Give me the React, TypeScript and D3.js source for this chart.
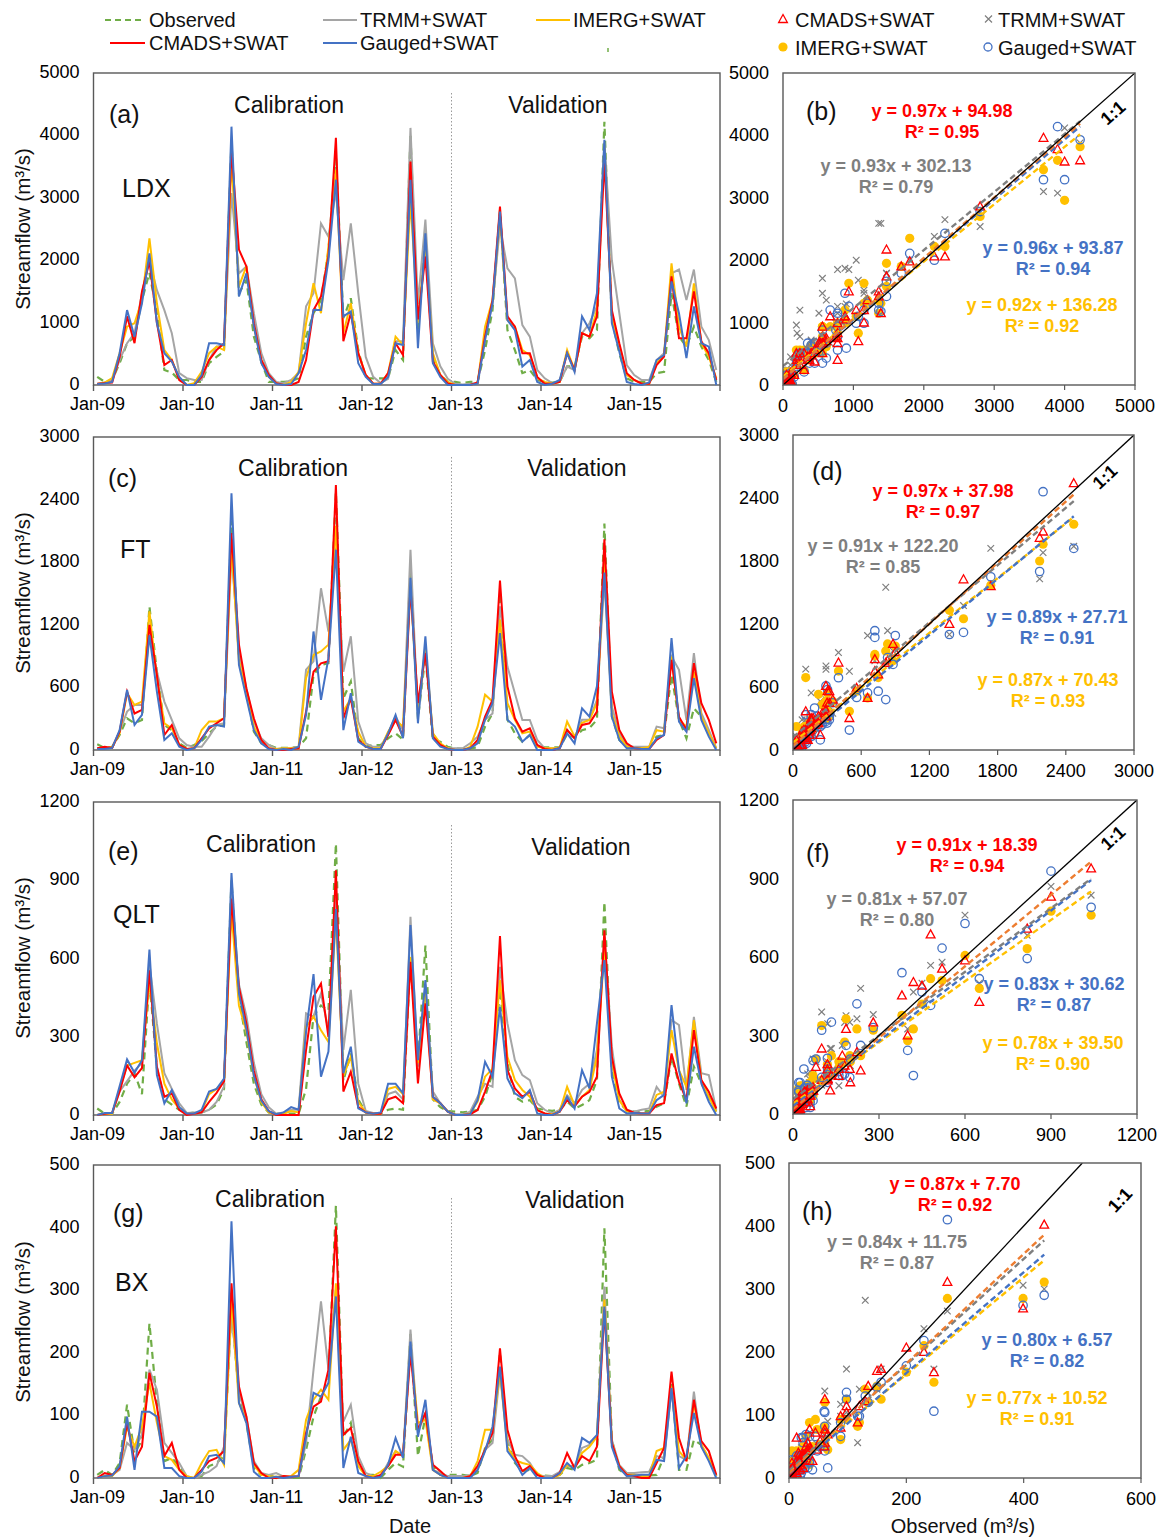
import React from "react";
import * as d3 from "d3";

const W = 1163;
const H = 1540;
const FONT = "'Liberation Sans', Arial, Helvetica, sans-serif";

const xTickLabels = ["Jan-09", "Jan-10", "Jan-11", "Jan-12", "Jan-13", "Jan-14", "Jan-15"];
const legendLineNames = ["Observed", "CMADS+SWAT", "TRMM+SWAT", "Gauged+SWAT", "IMERG+SWAT"];
const stationNames = ["LDX", "FT", "QLT", "BX"];
const panelTagsTS = ["(a)", "(c)", "(e)", "(g)"];
const panelTagsSC = ["(b)", "(d)", "(f)", "(h)"];
const yMaxes = [5000, 3000, 1200, 500];
const yStepsTS = [1000, 600, 300, 100];
const xStepsSC = [1000, 600, 300, 200];
const yScMaxes = [5000, 3000, 1200, 500];
const xScMaxes = [5000, 3000, 1200, 600];

// ---------------- Monthly streamflow (Jan-09 .. Dec-15), m3/s ----------------
const LDX_obs = [
  130, 50, 80, 350, 670, 775, 1360, 1800, 1150, 240, 200, 80,
  80, 50, 50, 350, 450, 535, 3900, 1470, 1680, 775, 375, 50,
  50, 50, 60, 107, 775, 1150, 1360, 2150, 3700, 1070, 1390, 560,
  107, 107, 107, 107, 560, 400, 4000, 900, 2300, 450, 160, 50,
  50, 30, 50, 50, 560, 1200, 2800, 880, 560, 190, 240, 80,
  50, 40, 50, 300, 300, 775, 750, 880, 4220, 1040, 510, 107,
  50, 50, 50, 190, 210, 1470, 775, 615, 935, 615, 400, 50];
const LDX_cmads = [
  20, 30, 40, 450, 1100, 670, 1500, 1980, 1000, 320, 400, 80,
  0, 0, 130, 400, 560, 670, 3780, 2170, 1900, 990, 400, 160,
  27, 0, 0, 50, 400, 1200, 1420, 2060, 3960, 700, 1150, 510,
  160, 20, 20, 190, 670, 480, 3580, 1050, 2060, 375, 160, 25,
  0, 0, 0, 40, 775, 1360, 2860, 1100, 935, 510, 510, 130,
  20, 20, 50, 510, 240, 830, 775, 1100, 3600, 1200, 670, 190,
  80, 20, 20, 320, 455, 1740, 750, 750, 1500, 700, 510, 80];
const LDX_gauged = [
  15, 25, 50, 510, 1200, 775, 1310, 2110, 990, 510, 375, 130,
  0, 0, 160, 670, 670, 640, 4140, 1420, 1790, 935, 350, 130,
  15, 0, 15, 190, 560, 1200, 1200, 2000, 3290, 1100, 1180, 350,
  130, 15, 15, 130, 670, 640, 3290, 590, 2430, 350, 130, 0,
  0, 0, 0, 20, 720, 1310, 2780, 1040, 880, 295, 400, 50,
  0, 20, 80, 510, 210, 1100, 880, 1470, 3930, 990, 535, 50,
  15, 0, 40, 400, 480, 1660, 1150, 430, 1260, 670, 615, 0];
const LDX_trmm = [
  15, 40, 80, 400, 670, 830, 1470, 2000, 1520, 1200, 830, 190,
  110, 80, 80, 400, 615, 640, 3075, 1790, 1900, 1150, 510, 190,
  50, 30, 80, 190, 1260, 1470, 2590, 2380, 3100, 1680, 2590, 1470,
  450, 130, 30, 100, 700, 700, 4120, 1300, 2650, 670, 300, 100,
  20, 10, 20, 30, 775, 1300, 2540, 1870, 1710, 960, 775, 240,
  107, 30, 50, 295, 240, 830, 990, 1260, 3880, 2000, 1150, 320,
  160, 80, 80, 400, 510, 1790, 1850, 1360, 1850, 935, 720, 240];
const LDX_imerg = [
  15, 40, 110, 510, 935, 990, 1360, 2350, 1310, 560, 400, 107,
  0, 30, 210, 510, 615, 560, 3600, 1580, 1900, 935, 400, 130,
  27, 0, 50, 210, 990, 1630, 1150, 2220, 3450, 830, 1310, 510,
  160, 20, 20, 190, 775, 640, 2960, 1000, 2220, 510, 160, 50,
  0, 0, 0, 30, 935, 1360, 2700, 1040, 935, 560, 480, 107,
  50, 20, 50, 560, 240, 830, 775, 1200, 3820, 1100, 615, 160,
  80, 20, 20, 350, 480, 1950, 935, 615, 1630, 670, 455, 107];

const FT_obs = [
  54, 20, 30, 144, 304, 256, 288, 1376, 750, 240, 190, 64,
  20, 48, 86, 160, 224, 240, 2200, 880, 560, 176, 64, 48,
  20, 20, 20, 30, 112, 720, 816, 832, 2470, 496, 656, 112,
  32, 48, 48, 112, 160, 100, 1740, 300, 900, 96, 80, 30,
  13, 10, 10, 30, 224, 350, 1500, 290, 160, 80, 144, 30,
  25, 25, 25, 150, 120, 190, 210, 290, 2170, 320, 96, 25,
  15, 25, 25, 130, 144, 720, 290, 112, 400, 320, 160, 15];
const FT_cmads = [
  16, 30, 20, 176, 560, 350, 385, 1200, 720, 144, 240, 48,
  10, 16, 112, 208, 256, 304, 2080, 1010, 590, 304, 96, 16,
  0, 0, 10, 16, 368, 750, 830, 850, 2540, 304, 496, 96,
  32, 10, 10, 144, 288, 128, 1560, 450, 930, 128, 48, 10,
  0, 0, 16, 96, 320, 480, 1625, 610, 304, 176, 208, 48,
  10, 0, 16, 192, 112, 240, 256, 368, 2020, 560, 192, 64,
  16, 10, 10, 96, 144, 864, 320, 192, 832, 448, 288, 64];
const FT_gauged = [
  10, 10, 20, 190, 575, 240, 336, 1100, 560, 96, 160, 32,
  0, 16, 96, 224, 240, 224, 2460, 815, 500, 190, 64, 10,
  0, 10, 0, 30, 336, 1136, 480, 880, 1920, 190, 544, 80,
  32, 10, 10, 160, 336, 112, 1650, 256, 1090, 112, 32, 10,
  0, 0, 16, 64, 290, 450, 1120, 290, 224, 80, 144, 0,
  0, 0, 16, 160, 64, 400, 320, 610, 1700, 320, 96, 16,
  16, 10, 10, 112, 144, 1072, 272, 176, 688, 288, 128, 0];
const FT_trmm = [
  16, 20, 20, 176, 368, 432, 432, 1100, 750, 464, 288, 112,
  48, 30, 30, 128, 240, 256, 1880, 944, 590, 272, 112, 48,
  10, 16, 20, 30, 770, 850, 1550, 1136, 1940, 750, 1090, 272,
  64, 30, 30, 160, 320, 190, 1920, 320, 960, 160, 48, 16,
  16, 16, 64, 128, 290, 350, 1376, 800, 544, 288, 288, 96,
  16, 16, 16, 192, 112, 290, 290, 480, 1630, 416, 160, 48,
  30, 30, 30, 224, 208, 896, 768, 288, 928, 352, 192, 16];
const FT_imerg = [
  10, 16, 30, 160, 544, 432, 464, 1330, 690, 256, 208, 48,
  10, 16, 192, 272, 272, 304, 1960, 850, 560, 224, 80, 16,
  10, 16, 16, 16, 690, 910, 944, 1010, 2150, 368, 496, 176,
  32, 16, 16, 176, 288, 224, 1570, 380, 990, 160, 64, 16,
  0, 0, 30, 224, 530, 464, 1250, 450, 290, 160, 176, 32,
  16, 16, 16, 272, 130, 260, 288, 450, 1800, 350, 130, 32,
  16, 16, 30, 190, 176, 896, 290, 224, 752, 320, 160, 16];

const QLT_obs = [
  25, 5, 5, 50, 120, 160, 80, 520, 180, 60, 40, 20,
  5, 10, 10, 20, 40, 100, 900, 450, 280, 120, 40, 10,
  5, 5, 5, 5, 100, 380, 420, 400, 1040, 130, 236, 60,
  10, 5, 5, 20, 25, 20, 600, 200, 650, 60, 30, 15,
  13, 10, 13, 20, 70, 160, 480, 198, 70, 51, 57, 25,
  20, 16, 20, 51, 25, 38, 57, 134, 817, 172, 45, 20,
  13, 13, 16, 32, 45, 223, 121, 32, 185, 121, 70, 13];
const QLT_cmads = [
  0, 5, 8, 90, 190, 145, 180, 555, 185, 70, 83, 20,
  0, 5, 10, 50, 85, 130, 830, 490, 350, 170, 60, 15,
  0, 0, 0, 0, 250, 453, 504, 300, 938, 90, 166, 30,
  10, 5, 5, 60, 70, 45, 587, 121, 428, 70, 45, 13,
  0, 0, 3, 19, 90, 172, 686, 172, 102, 70, 89, 19,
  6, 0, 13, 57, 32, 70, 89, 147, 708, 223, 83, 20,
  8, 6, 6, 38, 45, 236, 128, 57, 325, 134, 89, 25];
const QLT_gauged = [
  0, 8, 8, 110, 213, 162, 210, 634, 153, 45, 96, 30,
  6, 6, 20, 90, 100, 140, 928, 466, 330, 150, 55, 15,
  3, 10, 30, 20, 320, 540, 147, 243, 790, 160, 262, 25,
  10, 5, 10, 120, 120, 83, 728, 210, 517, 70, 45, 13,
  0, 0, 3, 57, 204, 147, 415, 140, 83, 64, 96, 6,
  0, 0, 13, 70, 25, 172, 102, 351, 594, 147, 25, 6,
  8, 6, 6, 57, 77, 421, 172, 45, 262, 121, 51, 0];
const QLT_trmm = [
  0, 5, 5, 90, 130, 170, 200, 580, 350, 160, 100, 45,
  8, 10, 10, 20, 50, 110, 870, 500, 380, 200, 80, 30,
  5, 10, 20, 20, 390, 377, 466, 325, 836, 250, 480, 120,
  15, 8, 8, 80, 90, 60, 760, 185, 500, 90, 45, 15,
  3, 3, 13, 70, 120, 108, 568, 351, 210, 153, 134, 45,
  20, 6, 20, 76, 45, 96, 120, 250, 683, 262, 57, 19,
  13, 20, 25, 108, 70, 364, 345, 96, 376, 160, 153, 20];
const QLT_imerg = [
  0, 5, 5, 100, 190, 200, 210, 510, 275, 120, 60, 25,
  5, 5, 15, 80, 100, 130, 775, 420, 320, 150, 50, 10,
  3, 5, 15, 10, 338, 377, 325, 280, 760, 150, 223, 50,
  10, 5, 5, 100, 108, 80, 606, 200, 480, 60, 45, 13,
  0, 0, 6, 51, 147, 178, 517, 223, 134, 96, 70, 19,
  6, 3, 13, 108, 38, 70, 96, 223, 632, 198, 57, 13,
  8, 6, 6, 77, 89, 325, 172, 108, 364, 134, 70, 13];

const BX_obs = [
  5, 13, 5, 24, 117, 40, 60, 247, 120, 27, 32, 19,
  0, 0, 3, 19, 24, 35, 270, 135, 88, 16, 5, 5,
  0, 3, 0, 0, 45, 98, 130, 157, 435, 66, 88, 21,
  5, 5, 0, 13, 24, 18, 230, 35, 98, 19, 5, 5,
  5, 5, 3, 8, 48, 61, 200, 61, 24, 11, 13, 5,
  4, 3, 5, 16, 13, 21, 24, 29, 399, 61, 13, 5,
  5, 4, 4, 5, 35, 150, 13, 13, 61, 53, 30, 3];
const BX_cmads = [
  0, 8, 5, 16, 88, 27, 50, 168, 114, 35, 56, 13,
  0, 0, 13, 27, 32, 43, 311, 146, 98, 24, 8, 0,
  0, 3, 2, 3, 72, 114, 122, 173, 402, 69, 80, 27,
  3, 0, 5, 19, 37, 37, 200, 77, 104, 21, 11, 0,
  0, 0, 3, 19, 45, 72, 207, 77, 35, 11, 19, 5,
  0, 0, 8, 40, 16, 35, 27, 50, 269, 56, 19, 5,
  3, 0, 0, 24, 48, 170, 64, 27, 125, 59, 43, 5];
const BX_gauged = [
  0, 3, 4, 19, 98, 13, 106, 106, 98, 16, 16, 3,
  0, 0, 10, 35, 37, 24, 410, 120, 88, 10, 0, 0,
  2, 0, 2, 3, 66, 136, 130, 152, 290, 16, 66, 8,
  3, 0, 2, 21, 64, 32, 218, 66, 125, 13, 5, 0,
  0, 0, 0, 13, 43, 82, 178, 43, 27, 5, 16, 0,
  0, 0, 8, 24, 13, 64, 56, 69, 274, 50, 16, 3,
  4, 5, 5, 29, 27, 144, 16, 35, 104, 50, 27, 0];
const BX_trmm = [
  0, 4, 5, 13, 56, 45, 70, 173, 141, 56, 40, 24,
  3, 0, 5, 10, 19, 50, 265, 135, 98, 27, 8, 5,
  8, 2, 2, 3, 56, 173, 282, 173, 300, 90, 117, 35,
  8, 3, 3, 24, 43, 35, 237, 72, 104, 13, 8, 3,
  3, 3, 5, 13, 45, 56, 168, 61, 37, 35, 24, 5,
  3, 3, 10, 19, 19, 48, 53, 66, 306, 61, 21, 8,
  8, 9, 10, 35, 32, 141, 35, 29, 138, 50, 30, 3];
const BX_imerg = [
  0, 3, 3, 16, 82, 50, 82, 152, 88, 35, 29, 13,
  3, 0, 24, 43, 45, 21, 285, 120, 93, 21, 5, 3,
  2, 2, 3, 13, 93, 125, 141, 125, 311, 45, 61, 19,
  3, 3, 10, 19, 43, 35, 210, 88, 93, 13, 5, 0,
  0, 0, 3, 27, 77, 77, 168, 50, 29, 24, 21, 8,
  0, 0, 5, 21, 16, 40, 50, 66, 285, 56, 19, 5,
  5, 3, 3, 43, 48, 146, 43, 29, 120, 53, 32, 3];

// Regression fits: [slope, intercept, R2], order CMADS, TRMM, Gauged, IMERG
const LDX_fits = [[0.97, 94.98, 0.95], [0.93, 302.13, 0.79], [0.96, 93.87, 0.94], [0.92, 136.28, 0.92]];
const FT_fits = [[0.97, 37.98, 0.97], [0.91, 122.2, 0.85], [0.89, 27.71, 0.91], [0.87, 70.43, 0.93]];
const QLT_fits = [[0.91, 18.39, 0.94], [0.81, 57.07, 0.8], [0.83, 30.62, 0.87], [0.78, 39.5, 0.9]];
const BX_fits = [[0.87, 7.7, 0.92], [0.84, 11.75, 0.87], [0.8, 6.57, 0.82], [0.77, 10.52, 0.91]];

const STATIONS = [
  { obs: LDX_obs, cmads: LDX_cmads, trmm: LDX_trmm, imerg: LDX_imerg, gauged: LDX_gauged, fits: LDX_fits },
  { obs: FT_obs, cmads: FT_cmads, trmm: FT_trmm, imerg: FT_imerg, gauged: FT_gauged, fits: FT_fits },
  { obs: QLT_obs, cmads: QLT_cmads, trmm: QLT_trmm, imerg: QLT_imerg, gauged: QLT_gauged, fits: QLT_fits },
  { obs: BX_obs, cmads: BX_cmads, trmm: BX_trmm, imerg: BX_imerg, gauged: BX_gauged, fits: BX_fits },
];

// ---------------- styles / layout ----------------
const C = {
  obs: "#70AD47",
  cmads: "#FF0000",
  trmm: "#A5A5A5",
  imerg: "#FFC000",
  gauged: "#4472C4",
  cmadsFit: "#ED7D31",
  trmmFit: "#7F7F7F",
  trmmText: "#7F7F7F",
  frame: "#595959",
};
const FIT_TEXT_COLORS = [C.cmads, C.trmmText, C.gauged, C.imerg];
const FIT_LINE_COLORS = [C.cmadsFit, C.trmmFit, C.gauged, C.imerg];

const TS_L = 93.5;
const TS_R = 720;
const TS_ROWS = [
  { top: 73, bottom: 385, divTop: 93, calib: [289, 113], valid: [558, 113], tag: [109, 123], st: [122, 197], ylab: 229 },
  { top: 437, bottom: 750, divTop: 457, calib: [293, 476], valid: [577, 476], tag: [108, 487], st: [120, 558], ylab: 593 },
  { top: 802, bottom: 1115, divTop: 825, calib: [261, 852], valid: [581, 855], tag: [108, 860], st: [113, 923], ylab: 958 },
  { top: 1165, bottom: 1478, divTop: 1198, calib: [270, 1207], valid: [575, 1208], tag: [113, 1222], st: [115, 1291], ylab: 1322 },
];
const SC_ROWS = [
  { left: 783, right: 1135, top: 73, bottom: 385, tag: [806, 120], one: [1113, 113], eq: [[942, 110], [896, 165], [1053, 247], [1042, 304]] },
  { left: 793, right: 1134, top: 435, bottom: 750, tag: [812, 480], one: [1105, 477], eq: [[943, 490], [883, 545], [1057, 616], [1048, 679]] },
  { left: 793, right: 1137, top: 800, bottom: 1114, tag: [806, 862], one: [1113, 838], eq: [[967, 844], [897, 898], [1054, 983], [1053, 1042]] },
  { left: 789, right: 1141, top: 1163, bottom: 1478, tag: [802, 1220], one: [1120, 1200], eq: [[955, 1183], [897, 1241], [1047, 1339], [1037, 1397]] },
];

function fmt2(v: number) {
  return v.toFixed(2);
}

function TimeSeries({ r }: { r: number }) {
  const L = TS_ROWS[r];
  const s = STATIONS[r];
  const x = d3.scaleLinear().domain([0, 84]).range([TS_L, TS_R]);
  const y = d3.scaleLinear().domain([0, yMaxes[r]]).range([L.bottom, L.top]);
  const line = d3
    .line<number>()
    .x((_, i) => x(i + 0.5))
    .y((d) => y(d));
  const yTicks = d3.range(0, yMaxes[r] + 1, yStepsTS[r]);
  const xTicks = d3.range(0, 85, 12);
  return (
    <g>
      <rect x={TS_L} y={L.top} width={TS_R - TS_L} height={L.bottom - L.top} fill="none" stroke={C.frame} strokeWidth={1.4} />
      <line x1={x(48)} x2={x(48)} y1={L.divTop} y2={L.bottom} stroke="#9A9A9A" strokeWidth={1} strokeDasharray="1.5,2" />
      {yTicks.map((v) => (
        <text key={v} x={TS_L - 14} y={y(v) + 5} fontSize={18} textAnchor="end" fill="#000">
          {v}
        </text>
      ))}
      {xTicks.map((m, k) => (
        <g key={m}>
          <line x1={x(m)} x2={x(m)} y1={L.bottom} y2={L.bottom + 6} stroke={C.frame} strokeWidth={1.4} />
          {k < xTickLabels.length && (
            <text x={x(m) + 4} y={L.bottom + 25} fontSize={18} textAnchor="middle" fill="#000">
              {xTickLabels[k]}
            </text>
          )}
        </g>
      ))}
      <path d={line(s.obs) || ""} fill="none" stroke={C.obs} strokeWidth={2.2} strokeDasharray="7,5" />
      <path d={line(s.trmm) || ""} fill="none" stroke={C.trmm} strokeWidth={2} />
      <path d={line(s.imerg) || ""} fill="none" stroke={C.imerg} strokeWidth={2} />
      <path d={line(s.cmads) || ""} fill="none" stroke={C.cmads} strokeWidth={2} />
      <path d={line(s.gauged) || ""} fill="none" stroke={C.gauged} strokeWidth={2} />
      <text x={L.calib[0]} y={L.calib[1]} fontSize={23} textAnchor="middle" fill="#111">Calibration</text>
      <text x={L.valid[0]} y={L.valid[1]} fontSize={23} textAnchor="middle" fill="#111">Validation</text>
      <text x={L.tag[0]} y={L.tag[1]} fontSize={25} fill="#111">{panelTagsTS[r]}</text>
      <text x={L.st[0]} y={L.st[1]} fontSize={25} fill="#111">{stationNames[r]}</text>
      <text transform={`translate(30,${L.ylab}) rotate(-90)`} fontSize={20.5} textAnchor="middle" fill="#111">
        Streamflow (m³/s)
      </text>
    </g>
  );
}

function Scatter({ r }: { r: number }) {
  const L = SC_ROWS[r];
  const s = STATIONS[r];
  const x = d3.scaleLinear().domain([0, xScMaxes[r]]).range([L.left, L.right]);
  const y = d3.scaleLinear().domain([0, yScMaxes[r]]).range([L.bottom, L.top]);
  const xTicks = d3.range(0, xScMaxes[r] + 1, xStepsSC[r]);
  const yTicks = d3.range(0, yScMaxes[r] + 1, yStepsTS[r]);
  const maxObs = d3.max(s.obs) || 0;
  const fitOrder = [3, 2, 1, 0];
  const oneMax = Math.min(xScMaxes[r], yScMaxes[r]);
  const ang = (Math.atan2(y(0) - y(oneMax), x(oneMax) - x(0)) * 180) / Math.PI;
  const clipId = `scclip${r}`;
  return (
    <g>
      <defs>
        <clipPath id={clipId}>
          <rect x={L.left} y={L.top} width={L.right - L.left} height={L.bottom - L.top} />
        </clipPath>
      </defs>
      {yTicks.map((v) => (
        <text key={v} x={L.left - 14} y={y(v) + 6} fontSize={18} textAnchor="end" fill="#000">
          {v}
        </text>
      ))}
      {xTicks.map((v) => (
        <g key={v}>
          <line x1={x(v)} x2={x(v)} y1={L.bottom} y2={L.bottom + 5} stroke={C.frame} strokeWidth={1.2} />
          <text x={x(v)} y={L.bottom + 27} fontSize={18} textAnchor="middle" fill="#000">
            {v}
          </text>
        </g>
      ))}
      <g clipPath={`url(#${clipId})`}>
        {s.obs.map((o, i) => {
          const cx = x(o);
          const cy = y(s.trmm[i]);
          return (
            <path key={"t" + i} d={`M${cx - 3.3},${cy - 3.3}L${cx + 3.3},${cy + 3.3}M${cx - 3.3},${cy + 3.3}L${cx + 3.3},${cy - 3.3}`} stroke="#7F7F7F" strokeWidth={1.2} fill="none" />
          );
        })}
        {s.obs.map((o, i) => (
          <circle key={"i" + i} cx={x(o)} cy={y(s.imerg[i])} r={4.6} fill={C.imerg} />
        ))}
        {s.obs.map((o, i) => (
          <circle key={"g" + i} cx={x(o)} cy={y(s.gauged[i])} r={4.2} fill="none" stroke={C.gauged} strokeWidth={1.3} />
        ))}
        {s.obs.map((o, i) => {
          const cx = x(o);
          const cy = y(s.cmads[i]);
          return (
            <path key={"c" + i} d={`M${cx},${cy - 4.6}L${cx + 4.4},${cy + 3.4}L${cx - 4.4},${cy + 3.4}Z`} stroke={C.cmads} strokeWidth={1.3} fill="none" />
          );
        })}
        {fitOrder.map((k) => {
          const [a, b] = s.fits[k];
          return (
            <line key={"f" + k} x1={x(0)} y1={y(b)} x2={x(maxObs)} y2={y(a * maxObs + b)} stroke={FIT_LINE_COLORS[k]} strokeWidth={2.4} strokeDasharray="6,3.5" />
          );
        })}
        <line x1={x(0)} y1={y(0)} x2={x(oneMax)} y2={y(oneMax)} stroke="#000" strokeWidth={1.3} />
      </g>
      <rect x={L.left} y={L.top} width={L.right - L.left} height={L.bottom - L.top} fill="none" stroke={C.frame} strokeWidth={1.4} />
      <text x={L.tag[0]} y={L.tag[1]} fontSize={25} fill="#111">{panelTagsSC[r]}</text>
      <text transform={`translate(${L.one[0]},${L.one[1]}) rotate(${-ang})`} fontSize={18} fontWeight="bold" textAnchor="middle" dominantBaseline="central" fill="#000">
        1:1
      </text>
      {s.fits.map((f, k) => (
        <g key={"eq" + k} fill={FIT_TEXT_COLORS[k]} fontWeight="bold" fontSize={18} textAnchor="middle">
          <text x={L.eq[k][0]} y={L.eq[k][1] + 6.5}>{`y = ${f[0].toFixed(2)}x + ${fmt2(f[1])}`}</text>
          <text x={L.eq[k][0]} y={L.eq[k][1] + 27.5}>{`R² = ${f[2].toFixed(2)}`}</text>
        </g>
      ))}
    </g>
  );
}

function Legend() {
  const fs = 20;
  return (
    <g fontSize={fs} fill="#111">
      <line x1={105} x2={145} y1={20} y2={20} stroke={C.obs} strokeWidth={2.2} strokeDasharray="6,4" />
      <text x={149} y={27}>{legendLineNames[0]}</text>
      <line x1={110} x2={145} y1={43} y2={43} stroke={C.cmads} strokeWidth={2.2} />
      <text x={149} y={50}>{legendLineNames[1]}</text>
      <line x1={323} x2={357} y1={20} y2={20} stroke={C.trmm} strokeWidth={2.2} />
      <text x={360} y={27}>{legendLineNames[2]}</text>
      <line x1={323} x2={357} y1={43} y2={43} stroke={C.gauged} strokeWidth={2.2} />
      <text x={360} y={50}>{legendLineNames[3]}</text>
      <line x1={536} x2={570} y1={20} y2={20} stroke={C.imerg} strokeWidth={2.2} />
      <text x={573} y={27}>{legendLineNames[4]}</text>
      <line x1={608} x2={608} y1={48} y2={52} stroke={C.obs} strokeWidth={1.5} />

      <path d="M783,14.5L787.4,22.5L778.6,22.5Z" fill="none" stroke={C.cmads} strokeWidth={1.3} />
      <text x={795} y={27}>CMADS+SWAT</text>
      <circle cx={783} cy={47} r={4.6} fill={C.imerg} />
      <text x={795} y={55}>IMERG+SWAT</text>
      <path d="M985,15.5L992,22.5M985,22.5L992,15.5" stroke="#7F7F7F" strokeWidth={1.2} />
      <text x={998} y={27}>TRMM+SWAT</text>
      <circle cx={988} cy={47} r={4} fill="none" stroke={C.gauged} strokeWidth={1.3} />
      <text x={998} y={55}>Gauged+SWAT</text>
    </g>
  );
}

export default function App() {
  return (
    <svg
      width={W}
      height={H}
      viewBox={`0 0 ${W} ${H}`}
      style={{ position: "absolute", left: 0, top: 0, display: "block", background: "#fff" }}
      fontFamily={FONT}
    >
      <rect x={0} y={0} width={W} height={H} fill="#fff" />
      <Legend />
      {stationNames.map((n, r) => (
        <g key={n}>
          <TimeSeries r={r} />
          <Scatter r={r} />
        </g>
      ))}
      <text x={410} y={1533} fontSize={20} textAnchor="middle" fill="#111">Date</text>
      <text x={963} y={1533} fontSize={20} textAnchor="middle" fill="#111">Observed  (m³/s)</text>
    </svg>
  );
}
